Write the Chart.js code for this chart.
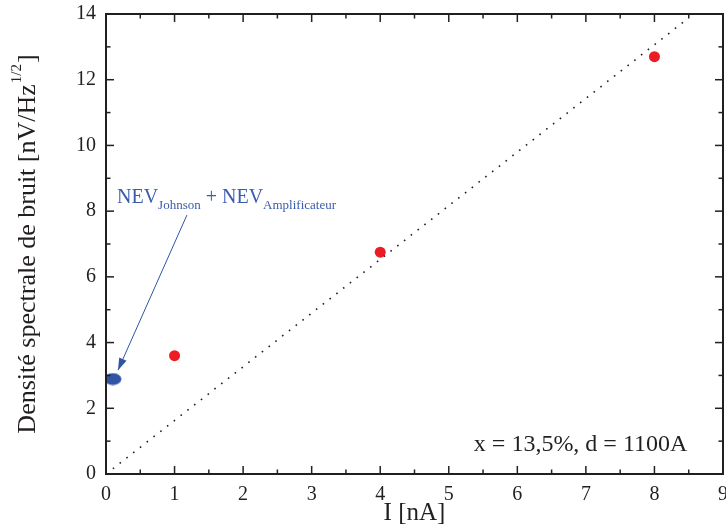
<!DOCTYPE html>
<html>
<head>
<meta charset="utf-8">
<script src="https://cdn.jsdelivr.net/npm/chart.js@4.4.1/dist/chart.umd.min.js"></script>
<style>
  html, body { margin: 0; background: #fff; }
  #wrap { width: 726px; height: 530px; }
</style>
</head>
<body>
<div id="wrap"><canvas id="c"></canvas></div>
<script>
// mesures (I en nA, densité en nV/Hz^1/2)
const measuredCurrent = [1, 4, 8];
const measuredNoise = [3.6, 6.75, 12.7];
const floorCurrent = [0.1];
const floorNoise = [2.89];
const fitCurrent = [0.1, 8.45];
const fitNoise = [0.16, 13.8];
const arrowCurrent = [1.18, 0.175];
const arrowNoise = [7.88, 3.16];
const xTickValues = [0, 1, 2, 3, 4, 5, 6, 7, 8, 9];
const xTickLabels = ['0', '1', '2', '3', '4', '5', '6', '7', '8', '9'];
const yTickValues = [0, 2, 4, 6, 8, 10, 12, 14];
const yTickLabels = ['0', '2', '4', '6', '8', '10', '12', '14'];

const INK = '#231f20';
const BLUE = '#2f55a4';
const SERIF = "'Liberation Serif', 'DejaVu Serif', serif";

const pts = (xs, ys) => xs.map((x, i) => ({ x, y: ys[i] }));

// ellipse bleue pour le point NEV
const blob = document.createElement('canvas');
blob.width = 18; blob.height = 13;
const bctx = blob.getContext('2d');
bctx.fillStyle = BLUE;
bctx.beginPath();
bctx.ellipse(9, 6.5, 8.5, 6, 0, 0, Math.PI * 2);
bctx.fill();

function seg(ctx, x1, y1, x2, y2) {
  ctx.beginPath(); ctx.moveTo(x1, y1); ctx.lineTo(x2, y2); ctx.stroke();
}

const framePlugin = {
  id: 'frame',
  afterDraw(chart) {
    const { ctx, chartArea: a, scales: { x, y } } = chart;
    ctx.save();
    ctx.strokeStyle = INK;
    ctx.lineWidth = 1.5;
    // ticks vers l'intérieur, sur les 4 côtés
    for (let v = 0; v <= 9; v += 0.5) {
      const px = x.getPixelForValue(v);
      const len = v % 1 === 0 ? 8 : 4.5;
      seg(ctx, px, a.bottom, px, a.bottom - len);
      seg(ctx, px, a.top, px, a.top + len);
    }
    for (let v = 0; v <= 14; v += 1) {
      const py = y.getPixelForValue(v);
      const len = v % 2 === 0 ? 8 : 4.5;
      seg(ctx, a.left, py, a.left + len, py);
      seg(ctx, a.right, py, a.right - len, py);
    }
    ctx.lineWidth = 2;
    ctx.strokeRect(a.left, a.top, a.right - a.left, a.bottom - a.top);

    // étiquettes des graduations
    ctx.fillStyle = INK;
    ctx.font = '20px ' + SERIF;
    ctx.textAlign = 'center';
    ctx.textBaseline = 'alphabetic';
    xTickValues.forEach((v, i) => ctx.fillText(xTickLabels[i], x.getPixelForValue(v), a.bottom + 26));
    ctx.textAlign = 'right';
    ctx.textBaseline = 'middle';
    yTickValues.forEach((v, i) => ctx.fillText(yTickLabels[i], a.left - 10, y.getPixelForValue(v)));

    // pointe de flèche
    const tx = x.getPixelForValue(arrowCurrent[1]), ty = y.getPixelForValue(arrowNoise[1]);
    const sx = x.getPixelForValue(arrowCurrent[0]), sy = y.getPixelForValue(arrowNoise[0]);
    const ang = Math.atan2(ty - sy, tx - sx);
    ctx.fillStyle = BLUE;
    ctx.beginPath();
    ctx.moveTo(tx, ty);
    ctx.lineTo(tx - 12 * Math.cos(ang) + 4 * Math.sin(ang), ty - 12 * Math.sin(ang) - 4 * Math.cos(ang));
    ctx.lineTo(tx - 12 * Math.cos(ang) - 4 * Math.sin(ang), ty - 12 * Math.sin(ang) + 4 * Math.cos(ang));
    ctx.closePath();
    ctx.fill();

    // annotation NEV_Johnson + NEV_Amplificateur
    ctx.fillStyle = '#3a5cad';
    ctx.textBaseline = 'alphabetic';
    ctx.textAlign = 'left';
    let cx = x.getPixelForValue(0.16);
    const by = y.getPixelForValue(8.25);
    const parts = [['NEV', 20, 0], ['Johnson', 13, 6], [' + NEV', 20, 0], ['Amplificateur', 13, 6]];
    parts.forEach(([t, size, dy]) => {
      ctx.font = size + 'px ' + SERIF;
      ctx.fillText(t, cx, by + dy);
      cx += ctx.measureText(t).width;
    });

    // conditions
    ctx.fillStyle = INK;
    ctx.font = '24px ' + SERIF;
    ctx.textAlign = 'right';
    ctx.fillText('x = 13,5%, d = 1100A', x.getPixelForValue(8.48), y.getPixelForValue(0.7));

    // titre axe x
    ctx.textAlign = 'center';
    ctx.font = '25px ' + SERIF;
    ctx.fillText('I [nA]', (a.left + a.right) / 2, 520);

    // titre axe y avec exposant
    ctx.translate(35, (a.top + a.bottom) / 2);
    ctx.rotate(-Math.PI / 2);
    ctx.textAlign = 'left';
    const main = 'Densité spectrale de bruit [nV/Hz', sup = '1/2', end = ']';
    ctx.font = '26px ' + SERIF; const w1 = ctx.measureText(main).width, w3 = ctx.measureText(end).width;
    ctx.font = '15px ' + SERIF; const w2 = ctx.measureText(sup).width;
    let p = -(w1 + w2 + w3 + 2) / 2;
    ctx.font = '26px ' + SERIF; ctx.fillText(main, p, 0); p += w1 + 1;
    ctx.font = '15px ' + SERIF; ctx.fillText(sup, p, -14); p += w2 + 1;
    ctx.font = '26px ' + SERIF; ctx.fillText(end, p, 0);
    ctx.restore();
  }
};

new Chart(document.getElementById('c'), {
  type: 'scatter',
  data: {
    datasets: [
      {
        label: 'fit', data: pts(fitCurrent, fitNoise), showLine: true,
        borderColor: INK, borderWidth: 1.6, borderDash: [1.6, 7], pointRadius: 0
      },
      {
        label: 'arrow', data: pts(arrowCurrent, arrowNoise), showLine: true,
        borderColor: BLUE, borderWidth: 1, pointRadius: 0
      },
      {
        label: 'mesures', data: pts(measuredCurrent, measuredNoise),
        pointRadius: 5.5, pointBackgroundColor: '#ec1c24', pointBorderWidth: 0
      },
      {
        label: 'NEV', data: pts(floorCurrent, floorNoise),
        pointStyle: blob, pointRadius: 9
      }
    ]
  },
  options: {
    responsive: true,
    maintainAspectRatio: false,
    animation: false,
    layout: { autoPadding: false, padding: { left: 106, right: 3, top: 14, bottom: 56 } },
    plugins: { legend: { display: false }, tooltip: { enabled: false } },
    scales: {
      x: { type: 'linear', min: 0, max: 9, display: false },
      y: { min: 0, max: 14, display: false }
    }
  },
  plugins: [framePlugin]
});
</script>
</body>
</html>
